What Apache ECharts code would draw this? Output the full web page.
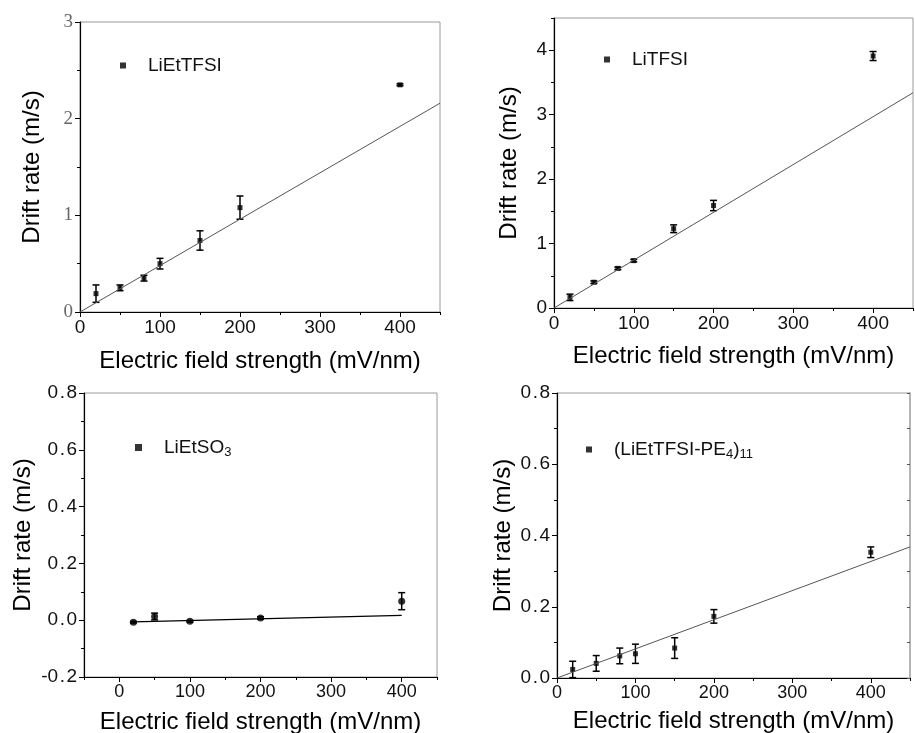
<!DOCTYPE html>
<html>
<head>
<meta charset="utf-8">
<script src="https://cdn.jsdelivr.net/npm/echarts@6/dist/echarts.min.js"></script>
<style>
  html, body { margin: 0; padding: 0; background: #fff; }
  #chart { width: 915px; height: 733px; }
</style>
</head>
<body>
<div id="chart"></div>
<script>
// Electric field strength (mV/nm) at which drift rate was measured
const fieldLiEtTFSI = [20, 50, 80, 100, 150, 200, 400];
const rateLiEtTFSI = [0.19, 0.25, 0.35, 0.50, 0.74, 1.08, 2.35];
const errLiEtTFSI = [0.09, 0.03, 0.03, 0.055, 0.10, 0.12, 0.01];
const fitLiEtTFSI = [[0, 0], [450, 2.16]];

const fieldLiTFSI = [20, 50, 80, 100, 150, 200, 400];
const rateLiTFSI = [0.165, 0.40, 0.615, 0.735, 1.23, 1.59, 3.91];
const errLiTFSI = [0.05, 0.02, 0.02, 0.02, 0.06, 0.08, 0.07];
const fitLiTFSI = [[0, 0], [450, 3.34]];

const fieldLiEtSO3 = [20, 50, 100, 200, 400];
const rateLiEtSO3 = [-0.007, 0.013, -0.004, 0.008, 0.067];
const errLiEtSO3 = [0.003, 0.012, 0.003, 0.004, 0.03];
const fitLiEtSO3 = [[20, -0.006], [400, 0.017]];

const fieldPE4 = [20, 50, 80, 100, 150, 200, 400];
const ratePE4 = [0.024, 0.041, 0.062, 0.068, 0.084, 0.173, 0.353];
const errPE4 = [0.023, 0.022, 0.022, 0.027, 0.029, 0.019, 0.015];
const fitPE4 = [[0, 0], [450, 0.368]];

const xTickValues = [0, 100, 200, 300, 400];
const xTitle = 'Electric field strength (mV/nm)';
const yTitle = 'Drift rate (m/s)';

const FONT = '"Liberation Sans", Arial, sans-serif';

// decimal labels with a little air around the point
const decimalLabel = v => {
  const s = v.toFixed(1);
  const [a, b] = s.split('.');
  return '{d|' + a + '}{p|.}{d|' + b + '}';
};

const panels = [
  {
    grid: { left: 80, top: 22, width: 360, height: 290 },
    x: { min: 0, max: 450 }, y: { min: 0, max: 3, interval: 1, minor: 0.5 },
    yFmt: v => String(v), ySerif: true,
    xName: 37, yName: 36, tickFont: 19,
    field: fieldLiEtTFSI, rate: rateLiEtTFSI, err: errLiEtTFSI, fit: fitLiEtTFSI,
    name: 'LiEtTFSI', legend: { left: 120, top: 56 }, symbol: 'rect', size: 5,
    fitColor: '#555', fitWidth: 1
  },
  {
    grid: { left: 554, top: 18, width: 359, height: 290 },
    x: { min: 0, max: 450 }, y: { min: 0, max: 4.5, interval: 1, minor: 0.5 },
    yFmt: v => (v % 1 === 0 ? String(v) : ''), yCustom: [0, 1, 2, 3, 4],
    xName: 36, yName: 33, tickFont: 19,
    field: fieldLiTFSI, rate: rateLiTFSI, err: errLiTFSI, fit: fitLiTFSI,
    name: 'LiTFSI', legend: { left: 604, top: 50 }, symbol: 'rect', size: 5,
    fitColor: '#555', fitWidth: 1
  },
  {
    grid: { left: 84, top: 393, width: 353, height: 284 },
    x: { min: -50, max: 450 }, y: { min: -0.2, max: 0.8, interval: 0.2, minor: 0.1 },
    yFmt: decimalLabel, yRich: true,
    xName: 33, yName: 49, tickFont: 18,
    field: fieldLiEtSO3, rate: rateLiEtSO3, err: errLiEtSO3, fit: fitLiEtSO3,
    name: 'LiEtSO{sub|3}', legend: { left: 135, top: 438 }, symbol: 'circle', size: 7,
    legendIcon: 7, fitColor: '#000', fitWidth: 1.4
  },
  {
    grid: { left: 557, top: 393, width: 353, height: 285 },
    x: { min: 0, max: 450 }, y: { min: 0, max: 0.8, interval: 0.2, minor: 0.1 },
    yFmt: decimalLabel, yRich: true,
    xName: 31, yName: 42, tickFont: 18,
    field: fieldPE4, rate: ratePE4, err: errPE4, fit: fitPE4,
    name: '(LiEtTFSI-PE{sub|4}){sub|11}', legend: { left: 586, top: 440 }, symbol: 'rect', size: 5,
    fitColor: '#555', fitWidth: 1, mirrorY: true
  }
];

const grid = [], xAxis = [], yAxis = [], series = [], legend = [];

panels.forEach((p, i) => {
  grid.push(Object.assign({
    show: true, borderColor: '#9a9a9a', borderWidth: 1,
    backgroundColor: 'transparent', containLabel: false, outerBoundsMode: 'none'
  }, p.grid));

  const xMain = xAxis.length;
  xAxis.push({
    type: 'value', gridIndex: i, position: 'bottom', min: p.x.min, max: p.x.max, interval: 100,
    name: xTitle, nameLocation: 'middle', nameGap: p.xName,
    nameTextStyle: { fontSize: 24, color: '#000', fontFamily: FONT },
    axisLine: { show: true, onZero: false, lineStyle: { color: '#000', width: 1.2 } },
    axisTick: { show: true, length: 5, customValues: xTickValues, lineStyle: { color: '#000', width: 1 } },
    axisLabel: {
      customValues: xTickValues, fontSize: p.tickFont, color: '#111', fontFamily: FONT, margin: 6,
      formatter: v => (v % 100 === 0 && v >= 0 && v <= 400 ? String(v) : '')
    },
    splitLine: { show: false }
  });
  // minor ticks every 50 mV/nm
  xAxis.push({
    type: 'value', gridIndex: i, position: 'bottom', min: p.x.min, max: p.x.max, interval: 50,
    axisLine: { show: false, onZero: false }, axisLabel: { show: false }, splitLine: { show: false },
    axisTick: { show: true, length: 3, lineStyle: { color: '#000', width: 1 } }
  });

  const yMain = yAxis.length;
  const yLabel = {
    fontSize: p.tickFont, color: p.ySerif ? '#666' : '#111',
    fontFamily: p.ySerif ? '"Liberation Serif", "Times New Roman", serif' : FONT,
    margin: 7, formatter: p.yFmt
  };
  if (p.yRich) {
    yLabel.rich = {
      d: { fontSize: 19, fontFamily: FONT, color: '#111' },
      p: { fontSize: 19, fontFamily: FONT, color: '#111', padding: [0, 1.5, 0, 1.5] }
    };
  }
  if (p.yCustom) yLabel.customValues = p.yCustom;
  const yTick = { show: true, length: 5, lineStyle: { color: '#000', width: 1 } };
  if (p.yCustom) yTick.customValues = p.yCustom;
  yAxis.push({
    type: 'value', gridIndex: i, position: 'left', min: p.y.min, max: p.y.max, interval: p.y.interval,
    name: yTitle, nameLocation: 'middle', nameGap: p.yName, nameRotate: 90,
    nameTextStyle: { fontSize: 24, color: '#000', fontFamily: FONT },
    axisLine: { show: true, onZero: false, lineStyle: { color: '#000', width: 1.2 } },
    axisTick: yTick, axisLabel: yLabel, splitLine: { show: false }
  });
  // minor ticks halfway between labelled values
  yAxis.push({
    type: 'value', gridIndex: i, position: 'left', min: p.y.min, max: p.y.max, interval: p.y.minor,
    axisLine: { show: false, onZero: false }, axisLabel: { show: false }, splitLine: { show: false },
    axisTick: { show: true, length: 3, lineStyle: { color: '#000', width: 1 } }
  });
  if (p.mirrorY) {
    yAxis.push({
      type: 'value', gridIndex: i, position: 'right', min: p.y.min, max: p.y.max, interval: p.y.minor,
      axisLine: { show: true, onZero: false, lineStyle: { color: '#b5b5b5', width: 2 } },
      axisLabel: { show: false }, splitLine: { show: false },
      axisTick: { show: true, inside: true, length: 3, lineStyle: { color: '#555', width: 1 } }
    });
  }

  // linear fit
  series.push({
    type: 'line', xAxisIndex: xMain, yAxisIndex: yMain, data: p.fit,
    showSymbol: false, silent: true, animation: false,
    lineStyle: { color: p.fitColor, width: p.fitWidth }
  });

  // error bars
  series.push({
    type: 'custom', xAxisIndex: xMain, yAxisIndex: yMain, silent: true, animation: false,
    data: p.field.map((x, k) => [x, p.rate[k] - p.err[k], p.rate[k] + p.err[k]]),
    encode: { x: 0, y: [1, 2] },
    renderItem: (params, api) => {
      const lo = api.coord([api.value(0), api.value(1)]);
      const hi = api.coord([api.value(0), api.value(2)]);
      const cap = 3.5;
      const style = { stroke: '#000', lineWidth: 1.5 };
      return {
        type: 'group',
        children: [
          { type: 'line', shape: { x1: lo[0], y1: lo[1], x2: hi[0], y2: hi[1] }, style },
          { type: 'line', shape: { x1: lo[0] - cap, y1: lo[1], x2: lo[0] + cap, y2: lo[1] }, style },
          { type: 'line', shape: { x1: hi[0] - cap, y1: hi[1], x2: hi[0] + cap, y2: hi[1] }, style }
        ]
      };
    }
  });

  // measured points
  series.push({
    type: 'scatter', name: p.name, xAxisIndex: xMain, yAxisIndex: yMain,
    data: p.field.map((x, k) => [x, p.rate[k]]),
    symbol: p.symbol, symbolSize: p.size, animation: false,
    itemStyle: { color: '#000' }
  });

  const icon = p.legendIcon || 6;
  legend.push({
    data: [{ name: p.name, icon: 'rect' }],
    left: p.legend.left, top: p.legend.top, padding: 0,
    itemWidth: icon, itemHeight: icon, selectedMode: false,
    formatter: n => n,
    textStyle: {
      fontSize: 19, color: '#111', fontFamily: FONT, padding: [0, 0, 0, 17],
      rich: { sub: { fontSize: 13, fontFamily: FONT, color: '#111', padding: [9, 0, 0, 0] } }
    }
  });
});

const chart = echarts.init(document.getElementById('chart'), null, { renderer: 'canvas' });
chart.setOption({
  animation: false,
  backgroundColor: '#fff',
  textStyle: { fontFamily: FONT },
  grid, xAxis, yAxis, series, legend
});
</script>
</body>
</html>
